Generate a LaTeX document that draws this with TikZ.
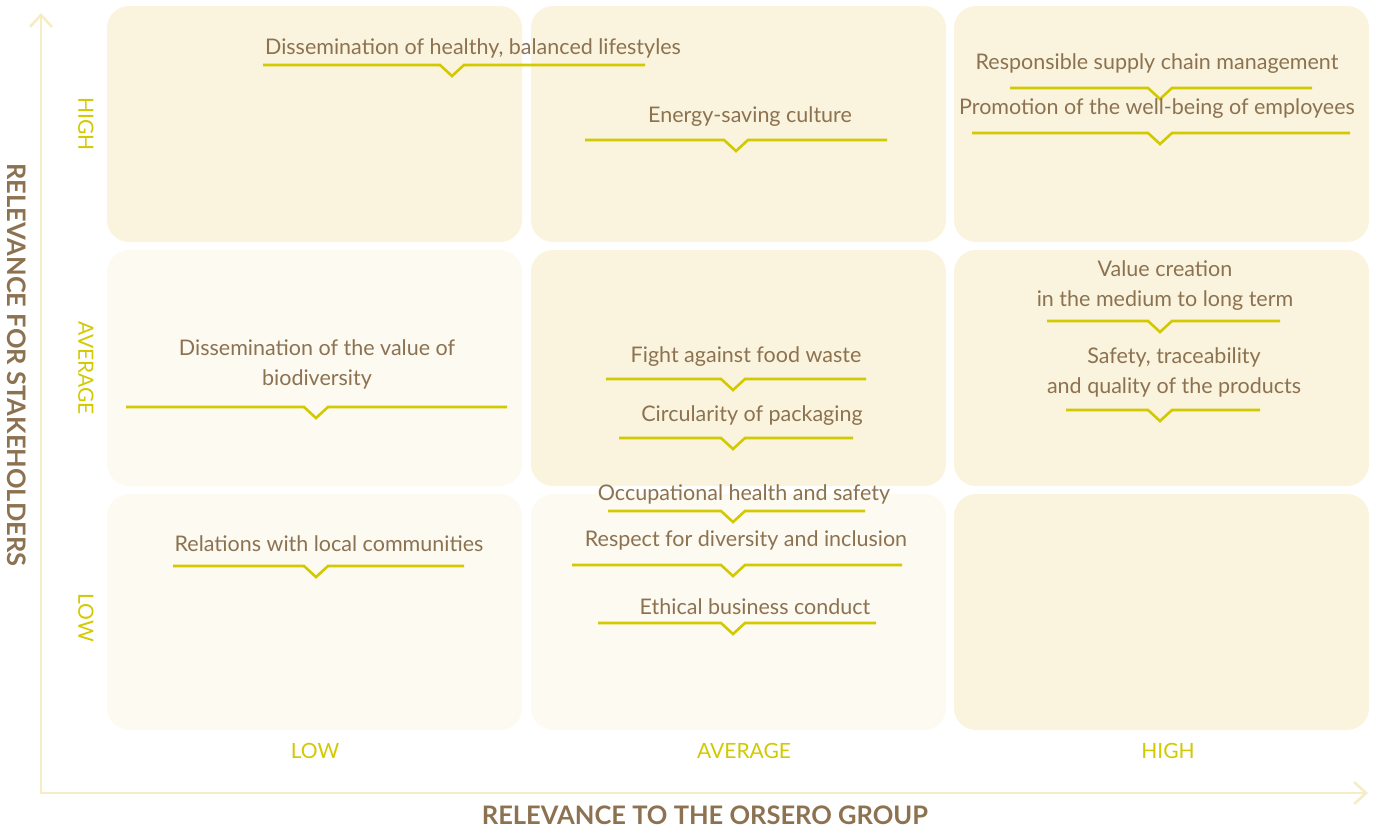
\documentclass[tikz,border=0pt]{standalone}
\usepackage{fontspec}
\setmainfont{Lato}
\usetikzlibrary{arrows.meta,calc,positioning}
\definecolor{MatDark}{HTML}{FAF4DE}
\definecolor{MatLight}{HTML}{FDFAF1}
\definecolor{MatBrown}{HTML}{8C7250}
\definecolor{MatLime}{HTML}{D2C900}
\definecolor{MatAxis}{HTML}{F6EDC6}

\tikzset{
  cell/.style={rounded corners=22pt, minimum width=415pt, minimum height=236pt, inner sep=0pt},
  topic/.style={text=MatBrown, align=center, inner sep=0pt, font=\fontsize{21.5}{30}\selectfont},
  level/.style={text=MatLime, inner sep=0pt, font=\fontsize{21}{24}\selectfont},
  axtitle/.style={text=MatBrown, inner sep=0pt, font=\fontsize{25.5}{28}\selectfont\bfseries},
  notch/.style={MatLime, line width=2.6pt},
}
% underline with a small notch: x from, x to, notch x, y
\newcommand{\notchline}[4]{\draw[notch] (#1,#4) -- ({#3-12},#4) -- (#3,{#4+11}) -- ({#3+12},#4) -- (#2,#4);}

\begin{document}
\begin{tikzpicture}[x=1pt, y=-1pt]
    \useasboundingbox (0,0) rectangle (1376,827);

    % grid of cells
    \node[cell, fill=MatDark] (lowhigh) at (314.5,124) {};
    \node[cell, fill=MatDark] (avghigh) at (738.5,124) {};
    \node[cell, fill=MatDark] (highhigh) at (1161.5,124) {};
    \node[cell, fill=MatLight] (lowavg) at (314.5,368) {};
    \node[cell, fill=MatDark] (avgavg) at (738.5,368) {};
    \node[cell, fill=MatDark] (highavg) at (1161.5,368) {};
    \node[cell, fill=MatLight] (lowlow) at (314.5,612) {};
    \node[cell, fill=MatLight] (avglow) at (738.5,612) {};
    \node[cell, fill=MatDark] (highlow) at (1161.5,612) {};

    % axes
    \coordinate (ytip) at (41,13);
    \coordinate (origin) at (41,793);
    \coordinate (xtip) at (1368,793);
    \draw[MatAxis, line width=2.6pt, {Straight Barb[length=12pt, width=22pt]}-{Straight Barb[length=12pt, width=22pt]}] (ytip) -- (origin) -- (xtip);

    \node[axtitle, rotate=-90] (ytitle) at (17,365) {RELEVANCE FOR STAKEHOLDERS};
    \node[axtitle] (xtitle) at (705,815) {RELEVANCE TO THE ORSERO GROUP};

    \node[level, rotate=-90] (yhigh) at (86,124) {HIGH};
    \node[level, rotate=-90] (yavg) at (86,368) {AVERAGE};
    \node[level, rotate=-90] (ylow) at (86,618) {LOW};
    \node[level] (xlow) at (315,751) {LOW};
    \node[level] (xavg) at (744,751) {AVERAGE};
    \node[level] (xhigh) at (1168,751) {HIGH};

    % topics
    \node[topic] (lifestyles) at (473,48) {Dissemination of healthy, balanced lifestyles};
    \notchline{263}{645}{452}{65}
    \node[topic] (energy) at (750,117) {Energy-saving culture};
    \notchline{585}{887}{736}{140}
    \node[topic] (supply) at (1157,64) {Responsible supply chain management};
    \notchline{1010}{1312}{1160}{88}
    \node[topic] (wellbeing) at (1157,109) {Promotion of the well-being of employees};
    \notchline{972}{1350}{1160}{133}

    \node[topic] (valuecr) at (1165,286) {Value creation\\in the medium to long term};
    \notchline{1047}{1280}{1160}{321}
    \node[topic] (safety) at (1174,372) {Safety, traceability\\and quality of the products};
    \notchline{1066}{1260}{1160}{410}
    \node[topic] (biodiv) at (317,364) {Dissemination of the value of\\biodiversity};
    \notchline{126}{507}{316}{407}
    \node[topic] (foodwaste) at (746,357) {Fight against food waste};
    \notchline{606}{866}{733}{379}
    \node[topic] (packaging) at (752,416) {Circularity of packaging};
    \notchline{619}{853}{733}{438}

    \node[topic] (ohs) at (744,494) {Occupational health and safety};
    \notchline{608}{865}{733}{511}
    \node[topic] (diversity) at (746,540) {Respect for diversity and inclusion};
    \notchline{572}{902}{733}{565}
    \node[topic] (ethics) at (755,607) {Ethical business conduct};
    \notchline{598}{876}{733}{623}
    \node[topic] (communities) at (329,544) {Relations with local communities};
    \notchline{173}{464}{316}{566}
  \end{tikzpicture}
\end{document}
